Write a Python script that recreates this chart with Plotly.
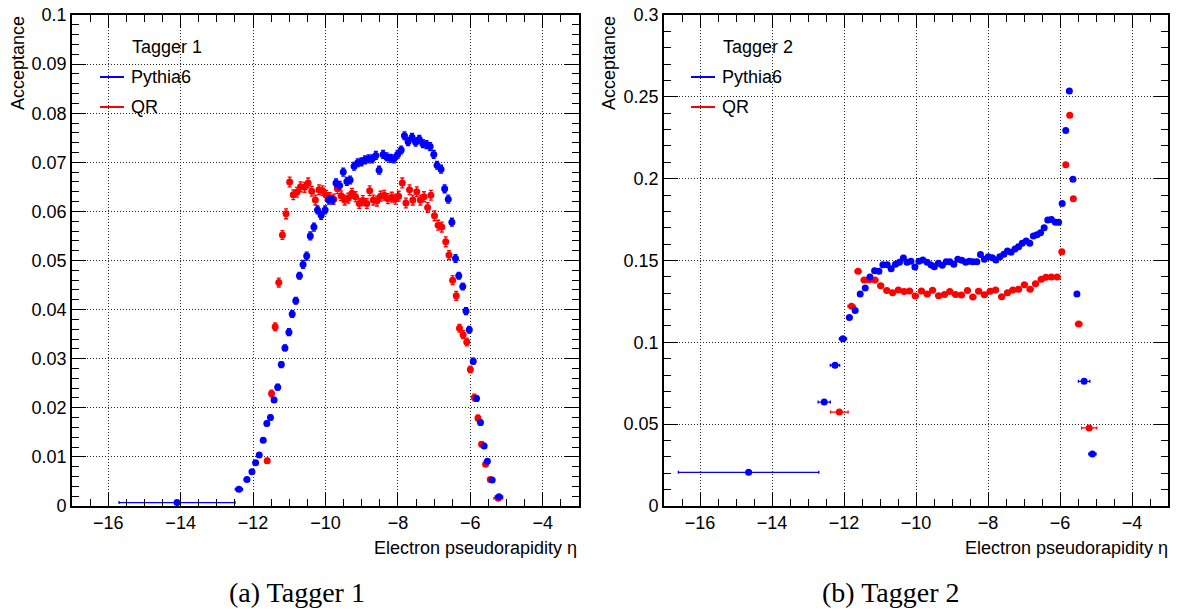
import plotly.graph_objects as go

# ---------------- data: Tagger 1 ----------------
t1_pythia_x = [-14.1, -12.39, -12.17, -12.03, -11.93, -11.83, -11.72, -11.62, -11.52, -11.42,
               -11.32, -11.22, -11.12, -11.01, -10.92, -10.82, -10.72, -10.62, -10.52, -10.42,
               -10.32, -10.22, -10.12, -10.01, -9.91, -9.81, -9.71, -9.61, -9.51, -9.41,
               -9.32, -9.21, -9.11, -9.01, -8.91, -8.81, -8.71, -8.61, -8.52, -8.41,
               -8.31, -8.21, -8.11, -8.01, -7.91, -7.82, -7.72, -7.61, -7.51, -7.41,
               -7.31, -7.21, -7.11, -7.01, -6.92, -6.81, -6.71, -6.61, -6.51, -6.41,
               -6.32, -6.21, -6.12, -6.03, -5.92, -5.83, -5.72, -5.62, -5.53, -5.40, -5.21]
t1_pythia_y = [0.0007, 0.0034, 0.0054, 0.0070, 0.0088, 0.0104, 0.0134, 0.0168, 0.0180, 0.0216,
               0.0242, 0.0288, 0.0322, 0.0354, 0.0391, 0.0418, 0.0469, 0.0492, 0.0509, 0.0550,
               0.0568, 0.0603, 0.0592, 0.0603, 0.0623, 0.0623, 0.0658, 0.0653, 0.0680, 0.0661,
               0.0664, 0.0692, 0.0699, 0.0701, 0.0705, 0.0707, 0.0707, 0.0714, 0.0684, 0.0716,
               0.0711, 0.0708, 0.0707, 0.0716, 0.0725, 0.0754, 0.0742, 0.0751, 0.0741, 0.0747,
               0.0738, 0.0736, 0.0732, 0.0716, 0.0694, 0.0686, 0.0646, 0.0625, 0.0578, 0.0504,
               0.0469, 0.0447, 0.0397, 0.0359, 0.0295, 0.0219, 0.0170, 0.0122, 0.0091, 0.0053, 0.0019]
t1_pythia_xerr = [1.6, 0.1, 0.07, 0.05, 0.05, 0.05, 0.05, 0.05, 0.05, 0.05,
                  0.05, 0.05, 0.05, 0.05, 0.05, 0.05, 0.05, 0.05, 0.05, 0.05,
                  0.05, 0.05, 0.05, 0.05, 0.05, 0.05, 0.05, 0.05, 0.05, 0.05,
                  0.05, 0.05, 0.05, 0.05, 0.05, 0.05, 0.05, 0.05, 0.05, 0.05,
                  0.05, 0.05, 0.05, 0.05, 0.05, 0.05, 0.05, 0.05, 0.05, 0.05,
                  0.05, 0.05, 0.05, 0.05, 0.05, 0.05, 0.05, 0.05, 0.05, 0.05,
                  0.05, 0.05, 0.05, 0.05, 0.05, 0.05, 0.05, 0.05, 0.05, 0.07, 0.1]
t1_pythia_yerr = [0.0001, 0.0003, 0.0003, 0.0003, 0.0003, 0.0004, 0.0004, 0.0005, 0.0005, 0.0005,
                  0.0006, 0.0006, 0.0006, 0.0007, 0.0007, 0.0007, 0.0007, 0.0008, 0.0008, 0.0008,
                  0.0008, 0.0008, 0.0008, 0.0008, 0.0008, 0.0008, 0.0008, 0.0008, 0.0008, 0.0008,
                  0.0008, 0.0008, 0.0008, 0.0008, 0.0008, 0.0008, 0.0008, 0.0008, 0.0008, 0.0008,
                  0.0008, 0.0008, 0.0008, 0.0008, 0.0008, 0.0008, 0.0008, 0.0008, 0.0008, 0.0008,
                  0.0008, 0.0008, 0.0008, 0.0008, 0.0008, 0.0008, 0.0008, 0.0008, 0.0008, 0.0008,
                  0.0007, 0.0007, 0.0007, 0.0007, 0.0006, 0.0006, 0.0005, 0.0004, 0.0004, 0.0003, 0.0002]

t1_qr_x = [-11.61, -11.49, -11.39, -11.29, -11.19, -11.09, -10.99, -10.89, -10.79, -10.69,
           -10.58, -10.48, -10.38, -10.28, -10.18, -10.08, -9.98, -9.88, -9.77, -9.67,
           -9.57, -9.47, -9.37, -9.27, -9.17, -9.07, -8.97, -8.86, -8.78, -8.68,
           -8.58, -8.48, -8.38, -8.28, -8.17, -8.07, -7.98, -7.88, -7.78, -7.68,
           -7.59, -7.48, -7.38, -7.28, -7.18, -7.09, -6.99, -6.89, -6.79, -6.68,
           -6.59, -6.49, -6.39, -6.30, -6.20, -6.10, -6.00, -5.89, -5.79, -5.69,
           -5.58, -5.45, -5.23]
t1_qr_y = [0.0092, 0.0229, 0.0365, 0.0455, 0.0552, 0.0595, 0.0660, 0.0634, 0.0639, 0.0650,
           0.0649, 0.0658, 0.0641, 0.0623, 0.0644, 0.0642, 0.0633, 0.0628, 0.0625, 0.0646,
           0.0632, 0.0623, 0.0627, 0.0637, 0.0630, 0.0616, 0.0622, 0.0616, 0.0642, 0.0623,
           0.0621, 0.0631, 0.0633, 0.0626, 0.0629, 0.0625, 0.0631, 0.0658, 0.0617, 0.0644,
           0.0623, 0.0640, 0.0623, 0.0630, 0.0608, 0.0633, 0.0591, 0.0572, 0.0568, 0.0538,
           0.0511, 0.0460, 0.0428, 0.0362, 0.0349, 0.0334, 0.0278, 0.0221, 0.0179, 0.0126,
           0.0085, 0.0054, 0.0016]
t1_qr_xerr = [0.05, 0.05, 0.05, 0.05, 0.05, 0.05, 0.05, 0.05, 0.05, 0.05,
              0.05, 0.05, 0.05, 0.05, 0.05, 0.05, 0.05, 0.05, 0.05, 0.05,
              0.05, 0.05, 0.05, 0.05, 0.05, 0.05, 0.05, 0.05, 0.05, 0.05,
              0.05, 0.05, 0.05, 0.05, 0.05, 0.05, 0.05, 0.05, 0.05, 0.05,
              0.05, 0.05, 0.05, 0.05, 0.05, 0.05, 0.05, 0.05, 0.05, 0.05,
              0.05, 0.05, 0.05, 0.05, 0.05, 0.05, 0.05, 0.05, 0.05, 0.05,
              0.05, 0.07, 0.12]
t1_qr_yerr = [0.0005, 0.0007, 0.0008, 0.0009, 0.0009, 0.0010, 0.0010, 0.0010, 0.0010, 0.0010,
              0.0010, 0.0010, 0.0010, 0.0010, 0.0010, 0.0010, 0.0010, 0.0010, 0.0010, 0.0010,
              0.0010, 0.0010, 0.0010, 0.0010, 0.0010, 0.0010, 0.0010, 0.0010, 0.0010, 0.0010,
              0.0010, 0.0010, 0.0010, 0.0010, 0.0010, 0.0010, 0.0010, 0.0010, 0.0010, 0.0010,
              0.0010, 0.0010, 0.0010, 0.0010, 0.0010, 0.0010, 0.0010, 0.0010, 0.0010, 0.0010,
              0.0009, 0.0009, 0.0009, 0.0008, 0.0008, 0.0008, 0.0007, 0.0007, 0.0006, 0.0005,
              0.0004, 0.0003, 0.0002]

# ---------------- data: Tagger 2 ----------------
t2_pythia_x = [-14.65, -12.55, -12.25, -12.03, -11.85, -11.69, -11.55, -11.41, -11.28, -11.15,
               -11.03, -10.92, -10.80, -10.69, -10.57, -10.46, -10.35, -10.25, -10.14, -10.03,
               -9.92, -9.81, -9.69, -9.58, -9.49, -9.38, -9.27, -9.16, -9.06, -8.95,
               -8.84, -8.73, -8.62, -8.52, -8.42, -8.31, -8.21, -8.10, -7.99, -7.88,
               -7.78, -7.67, -7.56, -7.46, -7.36, -7.25, -7.15, -7.05, -6.94, -6.84,
               -6.74, -6.64, -6.54, -6.44, -6.34, -6.24, -6.13, -6.04, -5.94, -5.84,
               -5.74, -5.64, -5.53, -5.33, -5.10]
t2_pythia_y = [0.0206, 0.0635, 0.0860, 0.1022, 0.1151, 0.1195, 0.1295, 0.1332, 0.1399, 0.1438,
               0.1434, 0.1474, 0.1474, 0.1450, 0.1477, 0.1489, 0.1515, 0.1489, 0.1495, 0.1460,
               0.1495, 0.1503, 0.1489, 0.1472, 0.1462, 0.1483, 0.1471, 0.1493, 0.1493, 0.1477,
               0.1507, 0.1501, 0.1489, 0.1495, 0.1493, 0.1493, 0.1536, 0.1507, 0.1523, 0.1517,
               0.1503, 0.1523, 0.1538, 0.1558, 0.1550, 0.1570, 0.1584, 0.1605, 0.1619, 0.1605,
               0.1650, 0.1658, 0.1670, 0.1700, 0.1747, 0.1750, 0.1733, 0.1733, 0.1849, 0.2295,
               0.2536, 0.1996, 0.1295, 0.0762, 0.0318]
t2_pythia_xerr = [1.95, 0.17, 0.13, 0.10, 0.06, 0.06, 0.055, 0.055, 0.055, 0.055,
                  0.055, 0.055, 0.055, 0.055, 0.055, 0.055, 0.055, 0.055, 0.055, 0.055,
                  0.055, 0.055, 0.055, 0.055, 0.055, 0.055, 0.055, 0.055, 0.055, 0.055,
                  0.055, 0.055, 0.055, 0.055, 0.055, 0.055, 0.055, 0.055, 0.055, 0.055,
                  0.055, 0.055, 0.055, 0.055, 0.055, 0.055, 0.055, 0.055, 0.055, 0.055,
                  0.055, 0.055, 0.055, 0.055, 0.055, 0.055, 0.055, 0.055, 0.055, 0.055,
                  0.055, 0.055, 0.06, 0.16, 0.10]

t2_qr_x = [-12.13, -11.79, -11.61, -11.44, -11.30, -11.14, -10.98, -10.81, -10.65, -10.49,
           -10.33, -10.18, -10.02, -9.85, -9.69, -9.54, -9.37, -9.21, -9.06, -8.90,
           -8.74, -8.57, -8.42, -8.26, -8.10, -7.94, -7.79, -7.62, -7.46, -7.31,
           -7.15, -6.99, -6.83, -6.68, -6.52, -6.39, -6.24, -6.08, -5.95, -5.84,
           -5.73, -5.63, -5.48, -5.19]
t2_qr_y = [0.0574, 0.1220, 0.1434, 0.1381, 0.1383, 0.1381, 0.1346, 0.1316, 0.1303, 0.1320,
           0.1310, 0.1314, 0.1283, 0.1314, 0.1295, 0.1318, 0.1285, 0.1293, 0.1310, 0.1293,
           0.1289, 0.1316, 0.1277, 0.1312, 0.1291, 0.1312, 0.1320, 0.1279, 0.1303, 0.1320,
           0.1324, 0.1352, 0.1324, 0.1358, 0.1385, 0.1397, 0.1399, 0.1399, 0.1554, 0.2085,
           0.2387, 0.1878, 0.1112, 0.0477]
t2_qr_xerr = [0.245, 0.10, 0.08, 0.08, 0.08, 0.08, 0.08, 0.08, 0.08, 0.08,
              0.08, 0.08, 0.08, 0.08, 0.08, 0.08, 0.08, 0.08, 0.08, 0.08,
              0.08, 0.08, 0.08, 0.08, 0.08, 0.08, 0.08, 0.08, 0.08, 0.08,
              0.08, 0.08, 0.08, 0.08, 0.08, 0.08, 0.08, 0.08, 0.06, 0.05,
              0.05, 0.05, 0.09, 0.21]

x_title = "Electron pseudorapidity η"
y_title = "Acceptance"
captions = ["(a) Tagger 1", "(b) Tagger 2"]
headers = ["Tagger 1", "Tagger 2"]
series_names = ["Pythia6", "QR"]

BLUE = "#0000ff"
RED = "#ff0000"
W, H = 1178, 611
FONT = "Liberation Sans, Arial, sans-serif"
FS = 18


def px(x):
    return x / W


def py(y):
    return 1 - y / H


fig = go.Figure()


def add_series(x, y, xerr, yerr, color, xa, ya, name):
    ey = dict(type="data", array=yerr, visible=True, color=color, thickness=1.3, width=2) if yerr else dict(visible=False)
    fig.add_trace(go.Scatter(
        x=x, y=y, mode="markers", name=name, showlegend=False,
        marker=dict(symbol="circle", size=7, color=color, line=dict(width=0)),
        error_x=dict(type="data", array=xerr, visible=True, color=color, thickness=1.3, width=1.5),
        error_y=ey,
        xaxis=xa, yaxis=ya,
    ))


add_series(t1_qr_x, t1_qr_y, t1_qr_xerr, t1_qr_yerr, RED, "x", "y", "QR")
add_series(t1_pythia_x, t1_pythia_y, t1_pythia_xerr, t1_pythia_yerr, BLUE, "x", "y", "Pythia6")
add_series(t2_qr_x, t2_qr_y, t2_qr_xerr, None, RED, "x2", "y2", "QR")
add_series(t2_pythia_x, t2_pythia_y, t2_pythia_xerr, None, BLUE, "x2", "y2", "Pythia6")

ydom = [py(506), py(15)]
common_axis = dict(
    showline=True, linecolor="black", linewidth=1.6, mirror="ticks",
    ticks="inside", tickcolor="black", tickwidth=1.2, automargin=False,
    showgrid=True, gridcolor="#222222", gridwidth=1, griddash="1px,2px",
    zeroline=False, tickfont=dict(family=FONT, size=FS, color="black"),
)
xaxis_common = dict(common_axis, range=[-17, -3], tick0=0, dtick=2, ticklen=13,
                    minor=dict(dtick=0.5, ticks="inside", ticklen=7, tickcolor="black", tickwidth=1.2, showgrid=False))

fig.update_layout(
    width=W, height=H,
    margin=dict(l=0, r=0, t=0, b=0, autoexpand=False),
    paper_bgcolor="white", plot_bgcolor="white",
    showlegend=False,
    xaxis=dict(xaxis_common, domain=[px(72), px(579)], anchor="y"),
    yaxis=dict(common_axis, domain=ydom, anchor="x", range=[0, 0.1], tick0=0, dtick=0.01, ticklen=14,
               minor=dict(dtick=0.002, ticks="inside", ticklen=7, tickcolor="black", tickwidth=1.2, showgrid=False)),
    xaxis2=dict(xaxis_common, domain=[px(664), px(1168)], anchor="y2"),
    yaxis2=dict(common_axis, domain=ydom, anchor="x2", range=[0, 0.3], tick0=0, dtick=0.05, ticklen=14,
                minor=dict(dtick=0.01, ticks="inside", ticklen=7, tickcolor="black", tickwidth=1.2, showgrid=False)),
)

annotations = []
shapes = []
panel_offsets = [0, 591]
x_title_right = [579, 1170]
y_title_x = [18, 609]
caption_x = [297, 890]
for i in range(2):
    off = panel_offsets[i]
    # axis titles
    annotations.append(dict(text=x_title, x=px(x_title_right[i]), y=py(548), xref="paper", yref="paper",
                            xanchor="right", yanchor="middle", showarrow=False,
                            font=dict(family=FONT, size=FS, color="black")))
    annotations.append(dict(text=y_title, x=px(y_title_x[i]), y=py(14), xref="paper", yref="paper",
                            xanchor="center", yanchor="top", textangle=-90, showarrow=False,
                            font=dict(family=FONT, size=FS, color="black")))
    # caption
    annotations.append(dict(text=captions[i], x=px(caption_x[i]), y=py(592), xref="paper", yref="paper",
                            xanchor="center", yanchor="middle", showarrow=False,
                            font=dict(family="Liberation Serif, Times New Roman, serif", size=28, color="black")))
    # legend
    annotations.append(dict(text=headers[i], x=px(130 + off), y=py(47), xref="paper", yref="paper",
                            xanchor="left", yanchor="middle", showarrow=False,
                            font=dict(family=FONT, size=FS, color="black")))
    for name, color, yy in [(series_names[0], BLUE, 77), (series_names[1], RED, 107)]:
        shapes.append(dict(type="line", xref="paper", yref="paper",
                           x0=px(100 + off), x1=px(124 + off), y0=py(yy), y1=py(yy),
                           line=dict(color=color, width=2)))
        annotations.append(dict(text=name, x=px(129 + off), y=py(yy), xref="paper", yref="paper",
                                xanchor="left", yanchor="middle", showarrow=False,
                                font=dict(family=FONT, size=FS, color="black")))

fig.update_layout(annotations=annotations, shapes=shapes)
fig.write_html("out.html")
